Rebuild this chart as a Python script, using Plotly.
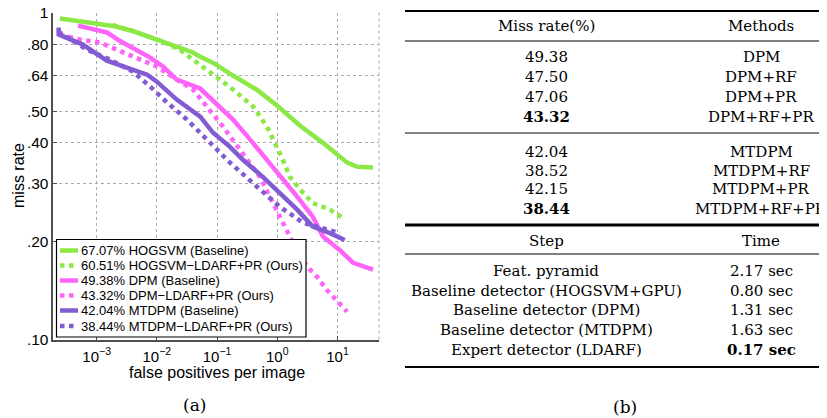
import plotly.graph_objects as go

# ---------------- data: miss rate vs FPPI curves ----------------
hog_fppi = [2.45e-4, 5.25e-4, 2.0e-3, 3.98e-3, 0.01, 0.0186, 0.0398, 0.0525, 0.0851, 0.184, 0.457, 1.0, 2.40, 5.75, 8.51, 14.5, 21.4, 38.9]
hog_mr = [0.959, 0.939, 0.908, 0.878, 0.824, 0.790, 0.755, 0.733, 0.703, 0.642, 0.581, 0.519, 0.451, 0.400, 0.376, 0.348, 0.338, 0.336]

hog_ours_fppi = [1.86e-3, 3.98e-3, 0.0112, 0.024, 0.0398, 0.0759, 0.112, 0.214, 0.398, 0.676, 1.0, 1.24, 1.62, 2.40, 3.89, 7.50, 12.3]
hog_ours_mr = [0.916, 0.878, 0.821, 0.770, 0.718, 0.660, 0.624, 0.569, 0.516, 0.448, 0.389, 0.355, 0.315, 0.288, 0.262, 0.250, 0.236]

dpm_fppi = [4.9e-4, 1.48e-3, 2.45e-3, 4.68e-3, 7.76e-3, 0.0126, 0.0214, 0.0525, 0.112, 0.184, 0.355, 0.676, 1.11, 2.14, 3.89, 5.75, 11.0, 18.2, 38.9]
dpm_mr = [0.912, 0.869, 0.818, 0.770, 0.728, 0.684, 0.624, 0.586, 0.516, 0.471, 0.409, 0.355, 0.315, 0.274, 0.238, 0.207, 0.188, 0.172, 0.164]

dpm_ours_fppi = [2.45e-4, 5.25e-4, 1.12e-3, 3.98e-3, 0.01, 0.0214, 0.0398, 0.0676, 0.126, 0.240, 0.513, 0.851, 1.45, 2.40, 3.51, 4.57, 6.68, 14.5]
dpm_ours_mr = [0.856, 0.827, 0.810, 0.733, 0.684, 0.624, 0.582, 0.516, 0.448, 0.381, 0.315, 0.262, 0.217, 0.179, 0.164, 0.156, 0.142, 0.122]

mtdpm_fppi = [2.34e-4, 2.34e-4, 5.89e-4, 1.48e-3, 3.16e-3, 6.92e-3, 0.01, 0.0214, 0.0525, 0.0851, 0.164, 0.269, 0.575, 1.11, 2.14, 3.89, 7.50, 13.2]
mtdpm_mr = [0.900, 0.856, 0.798, 0.713, 0.679, 0.646, 0.615, 0.542, 0.481, 0.430, 0.389, 0.355, 0.315, 0.281, 0.250, 0.222, 0.212, 0.202]

mtdpm_ours_fppi = [2.29e-4, 6.92e-4, 1.66e-3, 3.98e-3, 7.76e-3, 0.0148, 0.0316, 0.0676, 0.164, 0.457, 1.11, 2.69, 6.68, 11.0]
mtdpm_ours_mr = [0.875, 0.770, 0.718, 0.660, 0.594, 0.531, 0.471, 0.409, 0.348, 0.294, 0.255, 0.228, 0.217, 0.212]

legend_labels = [
    "67.07% HOGSVM (Baseline)",
    "60.51% HOGSVM\u2212LDARF+PR (Ours)",
    "49.38% DPM (Baseline)",
    "43.32% DPM\u2212LDARF+PR (Ours)",
    "42.04% MTDPM (Baseline)",
    "38.44% MTDPM\u2212LDARF+PR (Ours)",
]

y_tickvals = [0.1, 0.2, 0.3, 0.4, 0.5, 0.64, 0.8, 1.0]
y_ticktext = [".10", ".20", ".30", ".40", ".50", ".64", ".80", "1"]
x_tickvals = [1e-3, 1e-2, 1e-1, 1e0, 1e1]
x_ticktext = ["10<sup>\u22123</sup>", "10<sup>\u22122</sup>", "10<sup>\u22121</sup>", "10<sup>0</sup>", "10<sup>1</sup>"]

# ---------------- data: tables ----------------
dpm_rates = ["49.38", "47.50", "47.06", "43.32"]
dpm_methods = ["DPM", "DPM+RF", "DPM+PR", "DPM+RF+PR"]
mtdpm_rates = ["42.04", "38.52", "42.15", "38.44"]
mtdpm_methods = ["MTDPM", "MTDPM+RF", "MTDPM+PR", "MTDPM+RF+PR"]
steps = ["Feat. pyramid", "Baseline detector (HOGSVM+GPU)", "Baseline detector (DPM)",
         "Baseline detector (MTDPM)", "Expert detector (LDARF)"]
step_times = ["2.17", "0.80", "1.31", "1.63", "0.17"]

# ---------------- styling ----------------
OFF = 8  # the page body adds an 8px margin; place everything in window pixels
W, H = 827 - OFF, 418 - OFF
GREEN = "rgb(140,232,70)"
MAGENTA = "rgb(255,100,250)"
PURPLE = "rgb(130,92,210)"
SANS = "Liberation Sans, Arial, sans-serif"
SERIF = "DejaVu Serif, serif"


def px(x):
    return (x - OFF) / W


def py(y):
    return 1 - (y - OFF) / H


series = [
    (hog_fppi, hog_mr, GREEN, "solid"),
    (hog_ours_fppi, hog_ours_mr, GREEN, "dot"),
    (dpm_fppi, dpm_mr, MAGENTA, "solid"),
    (dpm_ours_fppi, dpm_ours_mr, MAGENTA, "dot"),
    (mtdpm_fppi, mtdpm_mr, PURPLE, "solid"),
    (mtdpm_ours_fppi, mtdpm_ours_mr, PURPLE, "dot"),
]

fig = go.Figure()
for (xs, ys, col, dash), name in zip(series, legend_labels):
    fig.add_trace(go.Scatter(x=xs, y=ys, mode="lines", name=name,
                             line=dict(color=col, width=4.5, dash=dash),
                             showlegend=False))

# plot area in window pixels
X0, X1 = 53.3, 379.0
Y0, Y1 = 12.5, 340.0

GRID = "rgb(170,170,170)"
AXIS = "rgb(80,80,80)"

fig.update_layout(
    width=W, height=H,
    margin=dict(l=0, r=0, t=0, b=0),
    paper_bgcolor="white", plot_bgcolor="white",
    xaxis=dict(type="log", range=[-3.72, 1.69], domain=[px(X0), px(X1)],
               tickvals=x_tickvals, ticktext=x_ticktext,
               tickfont=dict(family=SANS, size=15, color="black"),
               ticks="inside", ticklen=4, tickcolor=AXIS,
               ticklabelstandoff=2, ticklabeloverflow="allow",
               showline=True, linecolor=AXIS, linewidth=1.5,
               showgrid=True, gridcolor=GRID, griddash="dot", gridwidth=1,
               zeroline=False, automargin=False),
    yaxis=dict(type="log", range=[-1, 0], domain=[py(Y1), py(Y0)],
               tickvals=y_tickvals, ticktext=y_ticktext,
               tickfont=dict(family=SANS, size=15.5, color="black"),
               ticks="inside", ticklen=4, tickcolor=AXIS,
               ticklabeloverflow="allow",
               showline=True, linecolor=AXIS, linewidth=1.5,
               showgrid=True, gridcolor=GRID, griddash="dot", gridwidth=1,
               zeroline=False, automargin=False),
)

shapes = []
annotations = []


def text(t, x, y, font, xanchor="center", angle=0):
    annotations.append(dict(text=t, xref="paper", yref="paper", x=px(x), y=py(y),
                            xanchor=xanchor, yanchor="middle", textangle=angle,
                            showarrow=False, font=font))


# right-edge dotted frame line
shapes.append(dict(type="line", xref="paper", yref="paper",
                   x0=px(X1), x1=px(X1), y0=py(Y0), y1=py(Y1),
                   line=dict(color=GRID, width=1, dash="dot"), layer="below"))

# axis titles
text("false positives per image", 216.5, 372, dict(family=SANS, size=16, color="black"))
text("miss rate", 19, 176, dict(family=SANS, size=16, color="black"), angle=-90)

# legend box (drawn manually to match the compact MATLAB legend)
LX0, LX1, LY0, LY1 = 56.5, 306, 239.5, 337
shapes.append(dict(type="rect", xref="paper", yref="paper",
                   x0=px(LX0), x1=px(LX1), y0=py(LY1), y1=py(LY0),
                   line=dict(color="black", width=1.2), fillcolor="white", layer="above"))
entry_y = [250.5, 265.5, 280.5, 295.5, 310.5, 326]
for (xs, ys, col, dash), name, ey in zip(series, legend_labels, entry_y):
    shapes.append(dict(type="line", xref="paper", yref="paper",
                       x0=px(60), x1=px(78), y0=py(ey), y1=py(ey),
                       line=dict(color=col, width=4.5, dash=dash), layer="above"))
    text(name, 79, ey, dict(family=SANS, size=13, color="black"), xanchor="left")

# captions
text("(a)", 194, 405, dict(family=SERIF, size=17, color="black"))
text("(b)", 625, 407, dict(family=SERIF, size=17, color="black"))

# ---------------- table (b) ----------------
C1, C2 = 546, 761
TF = dict(family=SERIF, size=15, color="black")


def cell(t, x, y, bold=False):
    text("<b>%s</b>" % t if bold else t, x, y, TF)


def hline(y, width, color="black", x0=405, x1=827):
    shapes.append(dict(type="line", xref="paper", yref="paper",
                       x0=px(x0), x1=px(x1), y0=py(y), y1=py(y),
                       line=dict(color=color, width=width)))


hline(11, 2)
cell("Miss rate(%)", C1, 26)
cell("Methods", C2, 26)
hline(41, 1)

rows1 = [57.3, 76.7, 96.7, 116.5]
best1 = min(float(v) for v in dpm_rates)
for r, m, y in zip(dpm_rates, dpm_methods, rows1):
    cell(r, C1, y, bold=float(r) == best1)
    cell(m, C2, y)
hline(133, 1.6, color="rgb(90,90,90)")

rows2 = [151.7, 170.5, 189.5, 208.5]
best2 = min(float(v) for v in mtdpm_rates)
for r, m, y in zip(mtdpm_rates, mtdpm_methods, rows2):
    cell(r, C1, y, bold=float(r) == best2)
    cell(m, C2, y)
hline(225, 3)

cell("Step", C1, 241)
cell("Time", C2, 241)
hline(254, 1)

rows3 = [271, 290.5, 310, 330, 350]
best3 = min(float(v) for v in step_times)
for s, t, y in zip(steps, step_times, rows3):
    cell(s, C1, y)
    cell("%s sec" % t, C2, y, bold=float(t) == best3)
hline(367, 2)

fig.update_layout(shapes=shapes, annotations=annotations)
fig.write_html("out.html")
